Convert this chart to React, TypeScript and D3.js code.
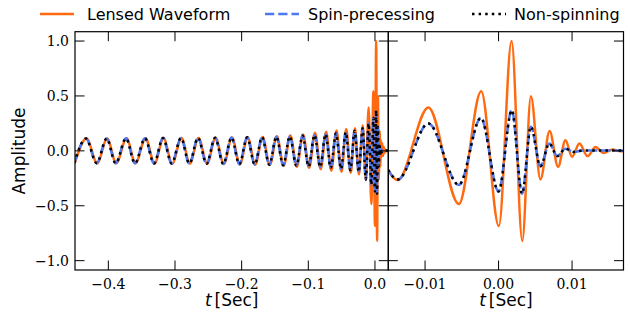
import React from "react";
import * as d3 from "d3";

// ---------- data: extrema [t (s), amplitude] ----------
const lensedWave: [number, number][] = [
  [-0.4502, -0.11], [-0.4327, 0.112], [-0.4167, -0.112], [-0.4017, 0.113],
  [-0.3882, -0.113], [-0.3727, 0.114], [-0.3592, -0.114], [-0.3442, 0.115],
  [-0.3307, -0.115], [-0.3172, 0.116], [-0.3042, -0.116], [-0.2902, 0.117],
  [-0.2777, -0.117], [-0.2647, 0.118], [-0.2518, -0.118], [-0.2391, 0.119],
  [-0.2267, -0.12], [-0.2145, 0.121], [-0.2026, -0.122], [-0.191, 0.124],
  [-0.1796, -0.125], [-0.1685, 0.127], [-0.1577, -0.129], [-0.1471, 0.132],
  [-0.1369, -0.135], [-0.1269, 0.14], [-0.1172, -0.145], [-0.1078, 0.15],
  [-0.0987, -0.155], [-0.0899, 0.165], [-0.0814, -0.168], [-0.0733, 0.175],
  [-0.0655, -0.18], [-0.0577, 0.185], [-0.0502, -0.19], [-0.0431, 0.2],
  [-0.0364, -0.2], [-0.0300, 0.205], [-0.0241, -0.215], [-0.0184, 0.23],
  [-0.0137, -0.266], [-0.00955, 0.395], [-0.0054, -0.485], [-0.00236, 0.543],
  [0.00004, -0.685], [0.00177, 1.0], [0.00323, -0.82], [0.0044, 0.497],
  [0.0057, -0.26], [0.00695, 0.18], [0.0081, -0.145], [0.0091, 0.097],
  [0.01, -0.054], [0.011, 0.067], [0.0121, -0.048], [0.0132, 0.036],
  [0.0143, -0.02], [0.0155, 0.013], [0.0166, -0.004], [0.02, 0],
];

const spinPrecessing: [number, number][] = [
  [-0.451, -0.11], [-0.4335, 0.112], [-0.4175, -0.112], [-0.4025, 0.113],
  [-0.389, -0.113], [-0.3735, 0.114], [-0.36, -0.114], [-0.345, 0.115],
  [-0.3315, -0.115], [-0.318, 0.116], [-0.305, -0.116], [-0.291, 0.117],
  [-0.2785, -0.117], [-0.2655, 0.118], [-0.2526, -0.118], [-0.2399, 0.119],
  [-0.2275, -0.12], [-0.2153, 0.121], [-0.2034, -0.122], [-0.1918, 0.123],
  [-0.1804, -0.124], [-0.1693, 0.125], [-0.1585, -0.127], [-0.1479, 0.129],
  [-0.1377, -0.131], [-0.1277, 0.133], [-0.118, -0.136], [-0.1086, 0.139],
  [-0.0995, -0.142], [-0.0907, 0.145], [-0.0822, -0.148], [-0.0741, 0.152],
  [-0.0663, -0.156], [-0.0585, 0.16], [-0.051, -0.165], [-0.0438, 0.17],
  [-0.037, -0.176], [-0.0305, 0.183], [-0.0244, -0.192], [-0.0185, 0.205],
  [-0.0137, -0.26], [-0.00955, 0.25], [-0.0054, -0.31], [-0.0024, 0.3],
  [0.0, -0.37], [0.0018, 0.37], [0.0032, -0.39], [0.0044, 0.22],
  [0.0057, -0.14], [0.0069, 0.067], [0.008, -0.048], [0.0091, 0.02],
  [0.0102, -0.01], [0.0115, 0.004], [0.02, 0],
];

const nonSpinning: [number, number][] = [
  [-0.451, -0.11], [-0.4335, 0.112], [-0.4175, -0.112], [-0.4025, 0.113],
  [-0.389, -0.113], [-0.3735, 0.114], [-0.36, -0.114], [-0.345, 0.115],
  [-0.3315, -0.115], [-0.318, 0.116], [-0.305, -0.116], [-0.291, 0.117],
  [-0.2785, -0.117], [-0.2655, 0.118], [-0.2526, -0.118], [-0.2399, 0.119],
  [-0.2275, -0.12], [-0.2153, 0.121], [-0.2034, -0.122], [-0.1918, 0.123],
  [-0.1804, -0.124], [-0.1693, 0.125], [-0.1585, -0.127], [-0.1479, 0.129],
  [-0.1377, -0.131], [-0.1277, 0.133], [-0.118, -0.136], [-0.1086, 0.139],
  [-0.0995, -0.142], [-0.0907, 0.145], [-0.0822, -0.148], [-0.0741, 0.152],
  [-0.0663, -0.156], [-0.0585, 0.16], [-0.051, -0.165], [-0.0438, 0.17],
  [-0.037, -0.176], [-0.0305, 0.183], [-0.0244, -0.192], [-0.0185, 0.205],
  [-0.0137, -0.26], [-0.00955, 0.25], [-0.0054, -0.31], [-0.0024, 0.3],
  [0.0, -0.37], [0.0018, 0.37], [0.0032, -0.39], [0.0044, 0.22],
  [0.0057, -0.14], [0.0069, 0.067], [0.008, -0.048], [0.0091, 0.02],
  [0.0102, -0.01], [0.0115, 0.004], [0.02, 0],
];

const legendLabels = ["Lensed Waveform", "Spin-precessing", "Non-spinning"];
const yTicks = [-1.0, -0.5, 0.0, 0.5, 1.0];
const yTickLabels = ["\u22121.0", "\u22120.5", "0.0", "0.5", "1.0"];
const leftXTicks = [-0.4, -0.3, -0.2, -0.1, 0.0];
const leftXTickLabels = ["\u22120.4", "\u22120.3", "\u22120.2", "\u22120.1", "0.0"];
const rightXTicks = [-0.01, 0.0, 0.01];
const rightXTickLabels = ["\u22120.01", "0.00", "0.01"];
const leftDomain: [number, number] = [-0.45, 0.02];
const rightDomain: [number, number] = [-0.015, 0.017];
const yDomain: [number, number] = [-1.085, 1.085];

// ---------- styling ----------
const W = 630, H = 315;
const TOP = 31.7, BOTTOM = 270;
const ORANGE = "#ff6a10";
const BLUE = "#4d78f0";
const BLACK = "#000000";
const LW = 2.5;
const TICK = 9.5;
const serif = "'DejaVu Serif', serif";
const sans = "'DejaVu Sans', sans-serif";

const series = [
  { data: lensedWave, color: ORANGE, dash: undefined as string | undefined },
  { data: spinPrecessing, color: BLUE, dash: "9.25 4" },
  { data: nonSpinning, color: BLACK, dash: "2.5 4.1" },
];

function Panel(props: {
  id: string; x0: number; x1: number; domain: [number, number];
  xTicks: number[]; xLabels: string[]; showY: boolean;
}) {
  const { id, x0, x1, domain, xTicks, xLabels, showY } = props;
  const x = d3.scaleLinear().domain(domain).range([x0, x1]);
  const y = d3.scaleLinear().domain(yDomain).range([BOTTOM, TOP]);
  const line = d3.line<[number, number]>()
    .x((d) => x(d[0]))
    .y((d) => y(d[1]))
    .curve(d3.curveMonotoneX);
  return (
    <g>
      <defs>
        <clipPath id={id}>
          <rect x={x0} y={TOP} width={x1 - x0} height={BOTTOM - TOP} />
        </clipPath>
      </defs>
      <g clipPath={`url(#${id})`}>
        {series.map((s, i) => (
          <path key={i} d={line(s.data) || ""} fill="none" stroke={s.color}
            strokeWidth={LW} strokeDasharray={s.dash} strokeLinejoin="round" />
        ))}
      </g>
      <rect x={x0} y={TOP} width={x1 - x0} height={BOTTOM - TOP}
        fill="none" stroke="#000" strokeWidth={1.2} />
      {xTicks.map((t, i) => (
        <g key={"x" + i}>
          <line x1={x(t)} x2={x(t)} y1={BOTTOM} y2={BOTTOM - TICK} stroke="#000" strokeWidth={1} />
          <line x1={x(t)} x2={x(t)} y1={TOP} y2={TOP + TICK} stroke="#000" strokeWidth={1} />
          <text x={x(t)} y={288.5} textAnchor="middle" fontFamily={serif} fontSize={14}>
            {xLabels[i]}
          </text>
        </g>
      ))}
      {yTicks.map((v, i) => (
        <g key={"y" + i}>
          <line x1={x0} x2={x0 + TICK} y1={y(v)} y2={y(v)} stroke="#000" strokeWidth={1} />
          <line x1={x1} x2={x1 - TICK} y1={y(v)} y2={y(v)} stroke="#000" strokeWidth={1} />
          {showY && (
            <text x={x0 - 6} y={y(v)} dy="0.36em" textAnchor="end" fontFamily={serif} fontSize={14}>
              {yTickLabels[i]}
            </text>
          )}
        </g>
      ))}
      <text x={(x0 + x1) / 2} y={306} textAnchor="middle" fontFamily={sans} fontSize={17}>
        <tspan fontStyle="italic">t</tspan>
        <tspan dx={3}>[Sec]</tspan>
      </text>
    </g>
  );
}

export default function App() {
  const legendX = [40, 265, 472];
  const legendTextX = [87, 308, 514];
  return (
    <svg width={W} height={H} style={{ position: "absolute", left: 0, top: 0, background: "#fff" }}>
      <rect x={0} y={0} width={W} height={H} fill="#fff" />
      <Panel id="clipL" x0={75} x1={388.3} domain={leftDomain}
        xTicks={leftXTicks} xLabels={leftXTickLabels} showY={true} />
      <Panel id="clipR" x0={388.3} x1={623.5} domain={rightDomain}
        xTicks={rightXTicks} xLabels={rightXTickLabels} showY={false} />
      <text transform="translate(25,151) rotate(-90)" textAnchor="middle"
        fontFamily={sans} fontSize={17}>Amplitude</text>
      {series.map((s, i) => (
        <g key={"lg" + i}>
          <line x1={legendX[i]} x2={legendX[i] + 34} y1={14} y2={14} stroke={s.color}
            strokeWidth={LW} strokeDasharray={s.dash} />
          <text x={legendTextX[i]} y={19.5} fontFamily={sans} fontSize={16}>{legendLabels[i]}</text>
        </g>
      ))}
    </svg>
  );
}
